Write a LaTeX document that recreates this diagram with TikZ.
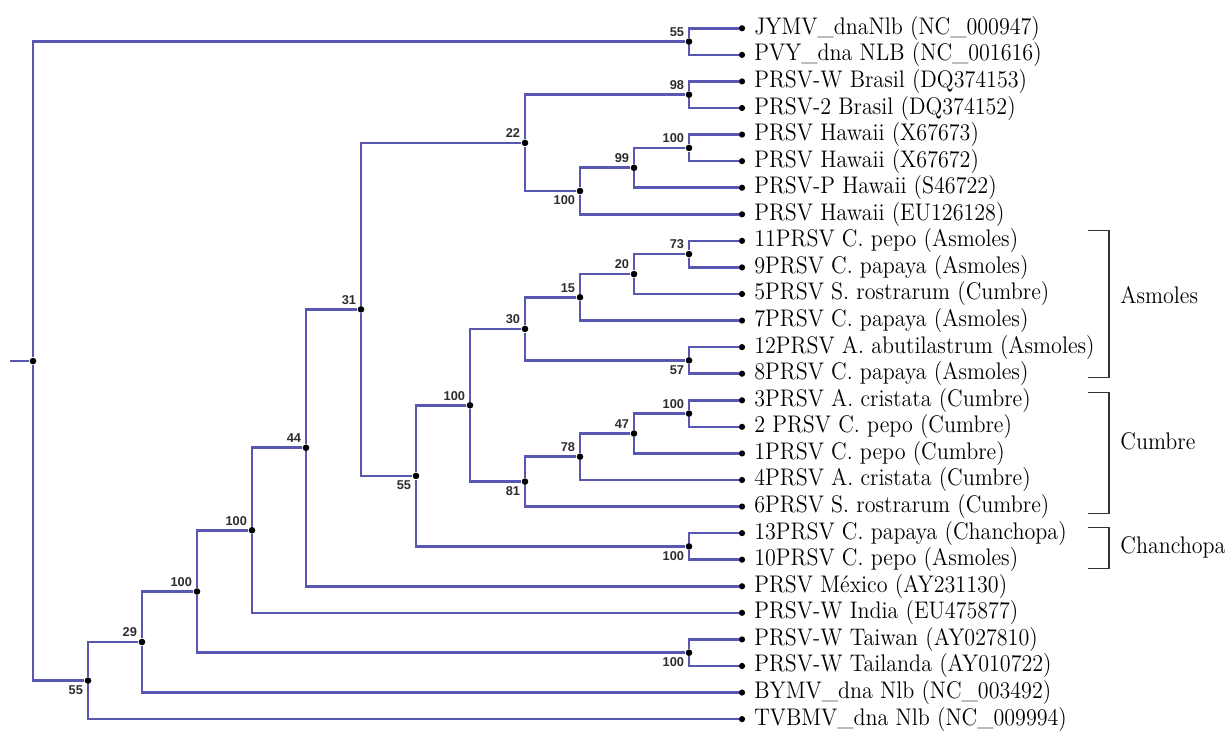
\documentclass[tikz,border=0pt]{standalone}
\usepackage{fontspec}
\newfontfamily\hojafont{Latin Modern Roman}[FakeStretch=0.92]
\newfontfamily\bootfont{Liberation Sans}
\definecolor{azulrama}{RGB}{88,88,178}
\definecolor{grisboot}{RGB}{45,45,45}
\tikzset{
  rama/.style={
    draw=azulrama,
    line width=1.3pt
  },
  nodo/.style={
    circle,
    fill=black,
    inner sep=0pt,
    minimum size=3.3pt
  },
  hoja/.style={
    circle,
    fill=black,
    inner sep=0pt,
    minimum size=3.1pt
  },
  boot/.style={
    font=\bootfont\bfseries\fontsize{6.4}{7}\selectfont,
    text=grisboot,
    inner sep=1pt
  },
  nombre/.style={
    font=\hojafont\fontsize{12}{14}\selectfont,
    inner sep=0pt,
    label distance=4.2pt,
    text height=.7em,
    text depth=.1em
  },
  grupo/.style={
    font=\hojafont\fontsize{12}{14}\selectfont,
    inner sep=0pt,
    text height=.7em,
    text depth=.1em,
    anchor=west
  },
  llave/.style={
    draw=black!80,
    line width=.65pt
  }
}

\begin{document}
\begin{tikzpicture}[x=.5pt,y=-.5pt]
\useasboundingbox (0,0) rectangle (1230,731);
% hojas
\node[hoja,label={[nombre]right:JYMV\_dnaNlb (NC\_000947)}] (l1) at (742,28.3) {};
\node[hoja,label={[nombre]right:PVY\_dna NLB (NC\_001616)}] (l2) at (742,54.87) {};
\node[hoja,label={[nombre]right:PRSV-W Brasil (DQ374153)}] (l3) at (742,81.44) {};
\node[hoja,label={[nombre]right:PRSV-2 Brasil (DQ374152)}] (l4) at (742,108.01) {};
\node[hoja,label={[nombre]right:PRSV Hawaii (X67673)}] (l5) at (742,134.58) {};
\node[hoja,label={[nombre]right:PRSV Hawaii (X67672)}] (l6) at (742,161.15) {};
\node[hoja,label={[nombre]right:PRSV-P Hawaii (S46722)}] (l7) at (742,187.72) {};
\node[hoja,label={[nombre]right:PRSV Hawaii (EU126128)}] (l8) at (742,214.29) {};
\node[hoja,label={[nombre]right:11PRSV C. pepo (Asmoles)}] (l9) at (742,240.86) {};
\node[hoja,label={[nombre]right:9PRSV C. papaya (Asmoles)}] (l10) at (742,267.43) {};
\node[hoja,label={[nombre]right:5PRSV S. rostrarum (Cumbre)}] (l11) at (742,294.0) {};
\node[hoja,label={[nombre]right:7PRSV C. papaya (Asmoles)}] (l12) at (742,320.57) {};
\node[hoja,label={[nombre]right:12PRSV A. abutilastrum (Asmoles)}] (l13) at (742,347.14) {};
\node[hoja,label={[nombre]right:8PRSV C. papaya (Asmoles)}] (l14) at (742,373.71) {};
\node[hoja,label={[nombre]right:3PRSV A. cristata (Cumbre)}] (l15) at (742,400.28) {};
\node[hoja,label={[nombre]right:2 PRSV C. pepo (Cumbre)}] (l16) at (742,426.85) {};
\node[hoja,label={[nombre]right:1PRSV C. pepo (Cumbre)}] (l17) at (742,453.42) {};
\node[hoja,label={[nombre]right:4PRSV A. cristata (Cumbre)}] (l18) at (742,479.99) {};
\node[hoja,label={[nombre]right:6PRSV S. rostrarum (Cumbre)}] (l19) at (742,506.56) {};
\node[hoja,label={[nombre]right:13PRSV C. papaya (Chanchopa)}] (l20) at (742,533.13) {};
\node[hoja,label={[nombre]right:10PRSV C. pepo (Asmoles)}] (l21) at (742,559.7) {};
\node[hoja,label={[nombre]right:PRSV México (AY231130)}] (l22) at (742,586.27) {};
\node[hoja,label={[nombre]right:PRSV-W India (EU475877)}] (l23) at (742,612.84) {};
\node[hoja,label={[nombre]right:PRSV-W Taiwan (AY027810)}] (l24) at (742,639.41) {};
\node[hoja,label={[nombre]right:PRSV-W Tailanda (AY010722)}] (l25) at (742,665.98) {};
\node[hoja,label={[nombre]right:BYMV\_dna Nlb (NC\_003492)}] (l26) at (742,692.55) {};
\node[hoja,label={[nombre]right:TVBMV\_dna Nlb (NC\_009994)}] (l27) at (742,719.12) {};
% nodos internos
\coordinate (r0) at (10,361.1);
\node[nodo] (n0) at (33,361.1) {};
\node[nodo,label={[boot]above left:55}] (nA) at (689,41.6) {};
\node[nodo,label={[boot]below left:55}] (nB) at (88,680.6) {};
\node[nodo,label={[boot]above left:29}] (nC) at (142,642.0) {};
\node[nodo,label={[boot]above left:100}] (nD) at (197,591.5) {};
\node[nodo,label={[boot]below left:100}] (nT) at (689,652.7) {};
\node[nodo,label={[boot]above left:100}] (nE) at (252,530.3) {};
\node[nodo,label={[boot]above left:44}] (nF) at (306,447.8) {};
\node[nodo,label={[boot]above left:31}] (nG) at (361,309.4) {};
\node[nodo,label={[boot]above left:22}] (nH) at (525,142.9) {};
\node[nodo,label={[boot]above left:98}] (nI) at (689,94.7) {};
\node[nodo,label={[boot]below left:100}] (nJ) at (580,191.0) {};
\node[nodo,label={[boot]above left:99}] (nK) at (634,167.8) {};
\node[nodo,label={[boot]above left:100}] (nL) at (689,147.9) {};
\node[nodo,label={[boot]below left:55}] (nM) at (416,475.9) {};
\node[nodo,label={[boot]below left:100}] (nCh) at (689,546.4) {};
\node[nodo,label={[boot]above left:100}] (nN) at (470,405.3) {};
\node[nodo,label={[boot]above left:30}] (nO) at (525,328.9) {};
\node[nodo,label={[boot]above left:15}] (nP) at (580,297.3) {};
\node[nodo,label={[boot]above left:20}] (nR) at (634,274.1) {};
\node[nodo,label={[boot]above left:73}] (nU) at (689,254.1) {};
\node[nodo,label={[boot]below left:57}] (nQ) at (689,360.4) {};
\node[nodo,label={[boot]below left:81}] (nS) at (525,481.6) {};
\node[nodo,label={[boot]above left:78}] (nV) at (580,456.7) {};
\node[nodo,label={[boot]above left:47}] (nW) at (634,433.5) {};
\node[nodo,label={[boot]above left:100}] (nX) at (689,413.6) {};
% ramas
\draw[rama] (r0) -- (n0);
\draw[rama] (n0) |- (nA) (n0) |- (nB);
\draw[rama] (nA) |- (l1) (nA) |- (l2);
\draw[rama] (nB) |- (nC) (nB) |- (l27);
\draw[rama] (nC) |- (nD) (nC) |- (l26);
\draw[rama] (nD) |- (nE) (nD) |- (nT);
\draw[rama] (nT) |- (l24) (nT) |- (l25);
\draw[rama] (nE) |- (nF) (nE) |- (l23);
\draw[rama] (nF) |- (nG) (nF) |- (l22);
\draw[rama] (nG) |- (nH) (nG) |- (nM);
\draw[rama] (nH) |- (nI) (nH) |- (nJ);
\draw[rama] (nI) |- (l3) (nI) |- (l4);
\draw[rama] (nJ) |- (nK) (nJ) |- (l8);
\draw[rama] (nK) |- (nL) (nK) |- (l7);
\draw[rama] (nL) |- (l5) (nL) |- (l6);
\draw[rama] (nM) |- (nN) (nM) |- (nCh);
\draw[rama] (nCh) |- (l20) (nCh) |- (l21);
\draw[rama] (nN) |- (nO) (nN) |- (nS);
\draw[rama] (nO) |- (nP) (nO) |- (nQ);
\draw[rama] (nP) |- (nR) (nP) |- (l12);
\draw[rama] (nR) |- (nU) (nR) |- (l11);
\draw[rama] (nU) |- (l9) (nU) |- (l10);
\draw[rama] (nQ) |- (l13) (nQ) |- (l14);
\draw[rama] (nS) |- (nV) (nS) |- (l19);
\draw[rama] (nV) |- (nW) (nV) |- (l18);
\draw[rama] (nW) |- (nX) (nW) |- (l17);
\draw[rama] (nX) |- (l15) (nX) |- (l16);
% grupos
\coordinate (asA) at (1088,230.8);
\coordinate (asB) at (1088,377.5);
\coordinate (cuA) at (1088,392.7);
\coordinate (cuB) at (1088,513.8);
\coordinate (chA) at (1088,527.3);
\coordinate (chB) at (1088,568.3);
\draw[llave] (asA) -- ++(21,0) |- (asB);
\draw[llave] (cuA) -- ++(21,0) |- (cuB);
\draw[llave] (chA) -- ++(21,0) |- (chB);
\node[grupo] (asmoles) at (1120,297.7) {Asmoles};
\node[grupo] (cumbre) at (1120,444) {Cumbre};
\node[grupo] (chanchopa) at (1120,547.6) {Chanchopa};
\end{tikzpicture}
\end{document}
